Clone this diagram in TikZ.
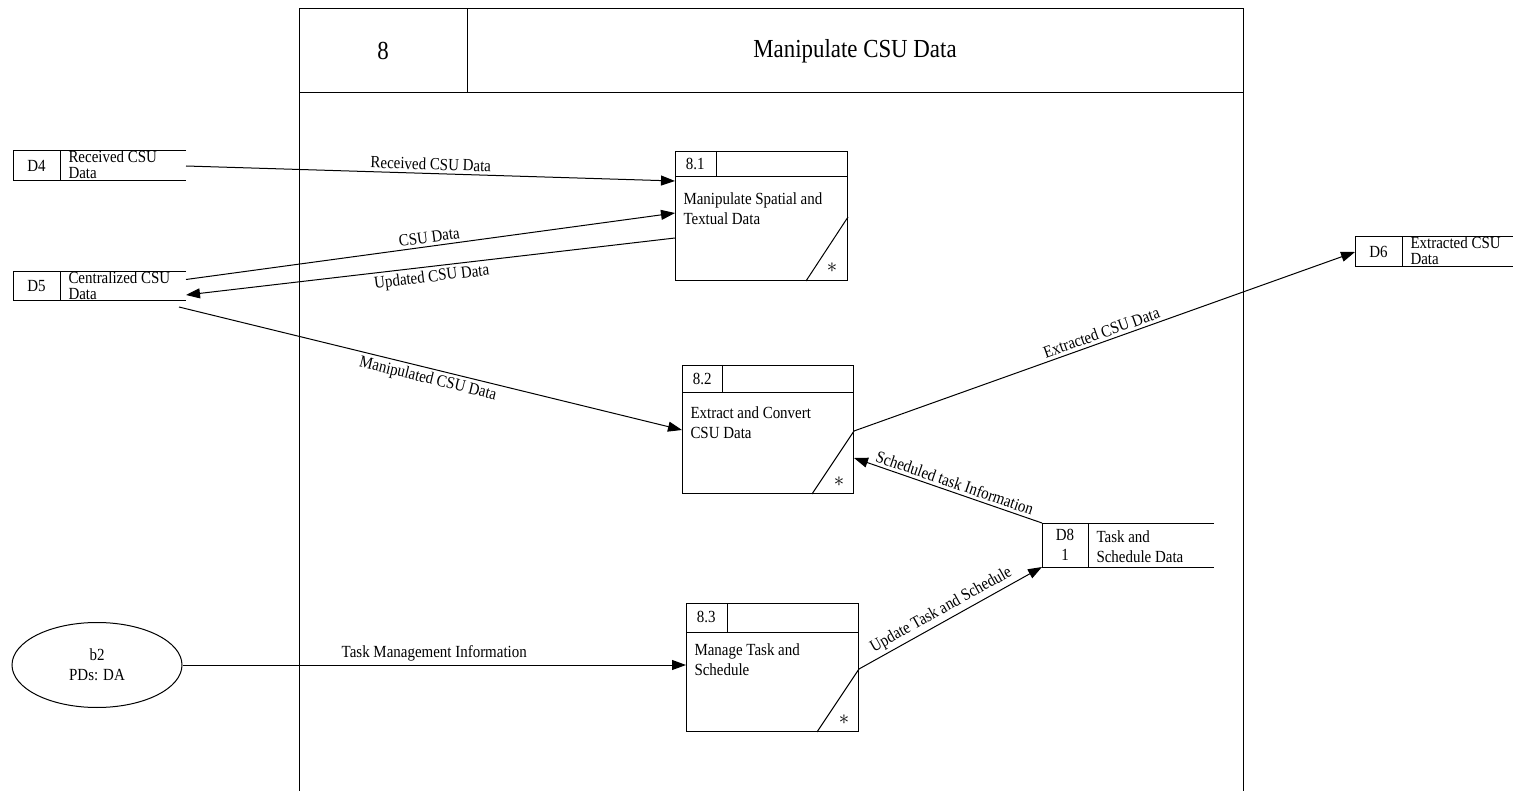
\documentclass[tikz,border=0pt]{standalone}
\usepackage{fontspec}
\setmainfont{Liberation Serif}[FakeStretch=0.88]
\usetikzlibrary{arrows.meta,shapes.geometric}
\tikzset{
		% Process boxes, data stores and the outside entity
		process node/.style={rectangle,draw,line width=1pt,anchor=north west,inner sep=0,minimum width=172pt,minimum height=129pt},
		store node/.style={rectangle,anchor=north west,inner sep=0,minimum width=172pt,minimum height=29pt},
		entity node/.style={ellipse,draw,line width=1pt,minimum width=170pt,minimum height=85pt,align=center,font=\fontsize{17}{20}\selectfont},
		inner text/.style={anchor=north west,inner sep=0,align=left,font=\fontsize{17}{20}\selectfont},
		store text/.style={anchor=north west,inner sep=0,align=left,font=\fontsize{17}{16}\selectfont}
	}

\begin{document}
\begin{tikzpicture}
		[
			x=1pt,y=-1pt,
			every path/.style={line width=1pt},
			flow/.style={draw,-{Triangle[length=14pt,width=10pt]}},
			flow label/.style={sloped,inner sep=3pt,font=\fontsize{17}{20}\selectfont}
		]
		\useasboundingbox (0,0) rectangle (1513,791);
		% frame of process 8
		\draw (299,791) -- (299,9) -- (1243,9) -- (1243,791);
		\draw (299,93) -- (1243,93);
		\draw (467,9) -- (467,93);
		\node [font=\fontsize{26}{30}\selectfont] (num) at (383,51) {8};
		\node [font=\fontsize{26}{30}\selectfont] (title) at (855,51) {Manipulate CSU Data};

		% processes
		\node [process node] (p81) at (675,151) {};
		\draw ([yshift=-26pt]p81.north west) -- ([yshift=-26pt]p81.north east);
		\draw ([xshift=41pt]p81.north west) -- ([xshift=41pt,yshift=-26pt]p81.north west);
		\draw ([xshift=-42pt]p81.south east) -- ([yshift=64pt]p81.south east);
		\node [anchor=west,font=\fontsize{17}{20}\selectfont] (p81-num) at ([xshift=7pt,yshift=-13pt]p81.north west) {8.1};
		\node [inner text] (p81-text) at ([xshift=8pt,yshift=-41pt]p81.north west) {Manipulate Spatial and\\Textual Data};
		\node [font=\fontsize{20}{20}\selectfont] (p81-star) at ([xshift=-16pt,yshift=13pt]p81.south east) {$\ast$};

		\node [process node,minimum width=171pt,minimum height=128pt] (p82) at (682,365) {};
		\draw ([yshift=-28pt]p82.north west) -- ([yshift=-28pt]p82.north east);
		\draw ([xshift=40pt]p82.north west) -- ([xshift=40pt,yshift=-28pt]p82.north west);
		\draw ([xshift=-42pt]p82.south east) -- ([yshift=63pt]p82.south east);
		\node [anchor=west,font=\fontsize{17}{20}\selectfont] (p82-num) at ([xshift=7pt,yshift=-14pt]p82.north west) {8.2};
		\node [inner text] (p82-text) at ([xshift=8pt,yshift=-41pt]p82.north west) {Extract and Convert\\CSU Data};
		\node [font=\fontsize{20}{20}\selectfont] (p82-star) at ([xshift=-15pt,yshift=12pt]p82.south east) {$\ast$};

		\node [process node,minimum height=128pt] (p83) at (686,603) {};
		\draw ([yshift=-29pt]p83.north west) -- ([yshift=-29pt]p83.north east);
		\draw ([xshift=41pt]p83.north west) -- ([xshift=41pt,yshift=-29pt]p83.north west);
		\draw ([xshift=-42pt]p83.south east) -- ([yshift=63pt]p83.south east);
		\node [anchor=west,font=\fontsize{17}{20}\selectfont] (p83-num) at ([xshift=7pt,yshift=-14pt]p83.north west) {8.3};
		\node [inner text] (p83-text) at ([xshift=8pt,yshift=-40pt]p83.north west) {Manage Task and\\Schedule};
		\node [font=\fontsize{20}{20}\selectfont] (p83-star) at ([xshift=-15pt,yshift=12pt]p83.south east) {$\ast$};

		% data stores
		\node [store node] (d4) at (13,151) {};
		\draw (d4.north east) -- (d4.north west) -- (d4.south west) -- (d4.south east);
		\draw ([xshift=47pt]d4.north west) -- ([xshift=47pt]d4.south west);
		\node (d4-id) at ([xshift=23.5pt]d4.west) {\fontsize{17}{20}\selectfont D4};
		\node [store text] (d4-text) at (68,150) {Received CSU\\Data};

		\node [store node,minimum height=28pt] (d5) at (13,272) {};
		\draw (d5.north east) -- (d5.north west) -- (d5.south west) -- (d5.south east);
		\draw ([xshift=47pt]d5.north west) -- ([xshift=47pt]d5.south west);
		\node (d5-id) at ([xshift=23.5pt]d5.west) {\fontsize{17}{20}\selectfont D5};
		\node [store text] (d5-text) at (68,271) {Centralized CSU\\Data};

		\node [store node,minimum width=158pt] (d6) at (1355,237) {};
		\draw (d6.north east) -- (d6.north west) -- (d6.south west) -- (d6.south east);
		\draw ([xshift=47pt]d6.north west) -- ([xshift=47pt]d6.south west);
		\node (d6-id) at ([xshift=23.5pt]d6.west) {\fontsize{17}{20}\selectfont D6};
		\node [store text] (d6-text) at (1410,236) {Extracted CSU\\Data};

		\node [store node,minimum width=171pt,minimum height=43pt] (d8) at (1042,523) {};
		\draw (d8.north east) -- (d8.north west) -- (d8.south west) -- (d8.south east);
		\draw ([xshift=46pt]d8.north west) -- ([xshift=46pt]d8.south west);
		\node [align=center,font=\fontsize{17}{20}\selectfont] (d8-id) at ([xshift=23pt]d8.west) {D8\\1};
		\node [inner text] (d8-text) at (1096,530) {Task and\\Schedule Data};

		% outside entity
		\node [entity node] (b2) at (97,665) {b2\\PDs: DA};

		% data flows
		\draw [flow] (d4.east) -- ([yshift=-30pt]p81.north west)
			node [flow label,above,pos=0.5] {Received CSU Data};
		\draw [flow] ([yshift=7pt]d5.east) -- ([yshift=-62pt]p81.north west)
			node [flow label,above,pos=0.5] {CSU Data};
		\draw [flow,{Triangle[length=14pt,width=10pt]}-] ([yshift=-8.5pt]d5.east) -- ([yshift=-87pt]p81.north west)
			node [flow label,below,pos=0.5] {Updated CSU Data};
		\draw [flow] ([xshift=-7pt,yshift=-6pt]d5.south east) -- ([yshift=-65pt]p82.north west)
			node [flow label,below,pos=0.5] {Manipulated CSU Data};
		\draw [flow] ([yshift=63pt]p82.south east) -- (d6.west)
			node [flow label,above,pos=0.5] {Extracted CSU Data};
		\draw [flow,{Triangle[length=14pt,width=10pt]}-] ([yshift=-93pt]p82.north east) -- (d8.north west)
			node [flow label,above,pos=0.52] {Scheduled task Information};
		\draw [flow] ([yshift=63pt]p83.south east) -- (d8.south west)
			node [flow label,above,pos=0.48] {Update Task and Schedule};
		\draw [flow] (b2.east) -- ([yshift=-62pt]p83.north west)
			node [flow label,above,pos=0.5] {Task Management Information};
	\end{tikzpicture}
\end{document}
